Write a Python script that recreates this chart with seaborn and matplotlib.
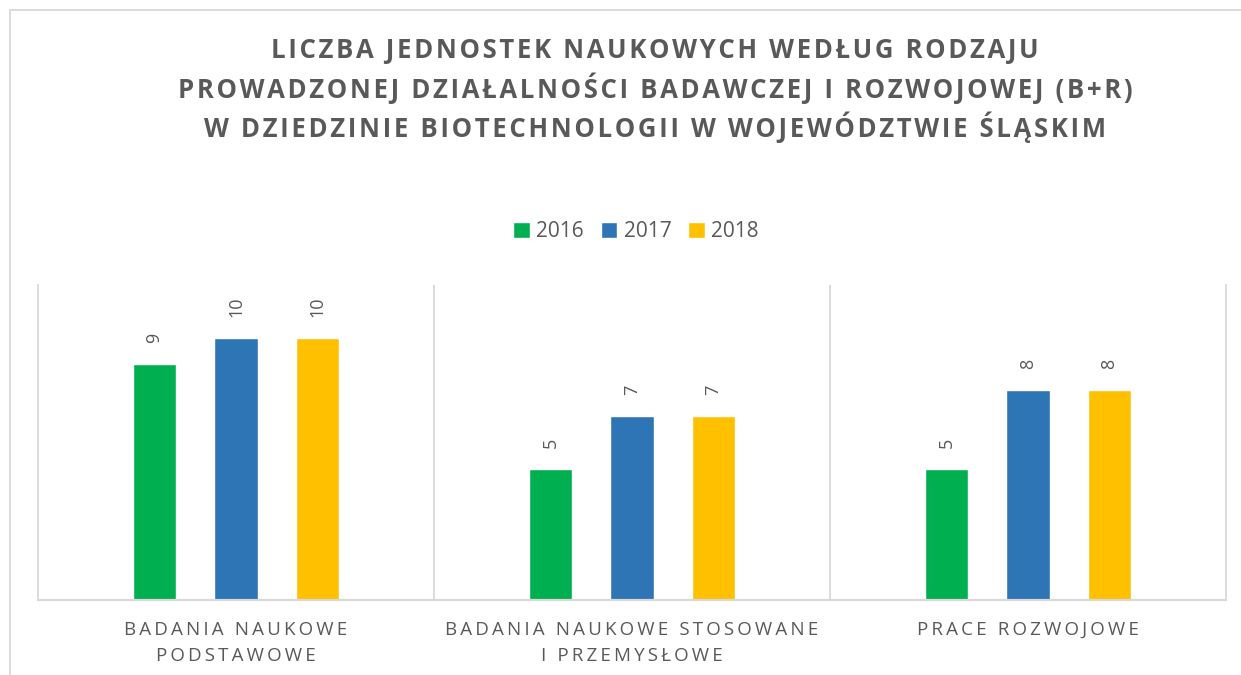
import matplotlib
matplotlib.use("Agg")
import matplotlib.pyplot as plt
from matplotlib.lines import Line2D
import seaborn as sns
import pandas as pd

categories = ["BADANIA NAUKOWE\nPODSTAWOWE",
              "BADANIA NAUKOWE STOSOWANE\nI PRZEMYSŁOWE",
              "PRACE ROZWOJOWE"]
years = ["2016", "2017", "2018"]
values_2016 = [9, 5, 5]
values_2017 = [10, 7, 8]
values_2018 = [10, 7, 8]
colors = ["#00B050", "#2E75B6", "#FFC000"]

title = ("LICZBA JEDNOSTEK NAUKOWYCH WEDŁUG RODZAJU\n"
         "PROWADZONEJ DZIAŁALNOŚCI BADAWCZEJ I ROZWOJOWEJ (B+R)\n"
         "W DZIEDZINIE BIOTECHNOLOGII W WOJEWÓDZTWIE ŚLĄSKIM")

TXT = "#595959"
GRID = "#D9D9D9"


def spaced(s, sep="\u200a"):
    # poor man's letter spacing
    lines = []
    for line in s.split("\n"):
        lines.append(sep.join(line))
    return "\n".join(lines)


rows = []
for y, vals in zip(years, [values_2016, values_2017, values_2018]):
    for c, v in zip(categories, vals):
        rows.append({"cat": c, "year": y, "value": v})
df = pd.DataFrame(rows)

sns.set_style("white")
plt.rcParams["font.family"] = ["Open Sans", "DejaVu Sans"]

fig = plt.figure(figsize=(12.41, 6.75), dpi=100)
ax = fig.add_axes([38 / 1241, 1 - 600 / 675, (1226 - 38) / 1241, 315 / 675])

sns.barplot(data=df, x="cat", y="value", hue="year", palette=colors,
            width=0.618, gap=0.47, ax=ax, saturation=1, legend=True)

for cont in ax.containers:
    ax.bar_label(cont, rotation=90, padding=15, color=TXT, fontsize=13)

ax.set_ylim(0, 12)
ax.set_xlim(-0.5, 2.5)
ax.set_yticks([])
ax.set_xlabel("")
ax.set_ylabel("")
ax.set_xticks(range(len(categories)))
ax.set_xticklabels([spaced(c, "\u2009") for c in categories], color=TXT,
                   fontsize=13.5, linespacing=1.6)
ax.tick_params(axis="x", length=0, pad=15)
for x in [0.5, 1.5]:
    ax.axvline(x, color=GRID, lw=1.3)
for side in ["left", "right", "bottom"]:
    ax.spines[side].set_color(GRID)
    ax.spines[side].set_linewidth(1.3)
ax.spines["bottom"].set_linewidth(1.6)
ax.spines["top"].set_visible(False)

handles, labels = ax.get_legend_handles_labels()
ax.legend(handles, labels, loc="center", bbox_to_anchor=(636 / 1241, 1 - 232 / 675),
          bbox_transform=fig.transFigure, ncol=3, frameon=False, fontsize=15,
          handlelength=0.8, handleheight=0.8, handletextpad=0.3,
          columnspacing=0.8, labelcolor=TXT)

fig.text(655 / 1241, 1 - 90 / 675, spaced(title, "\u200a"), ha="center", va="center",
         fontsize=18.5, fontweight="bold", color=TXT, linespacing=1.33)

# outer chart-area frame
fig.add_artist(Line2D([10 / 1241, 1.0], [1 - 10 / 675] * 2,
                      transform=fig.transFigure, color=GRID, lw=1.3))
fig.add_artist(Line2D([10 / 1241] * 2, [0.0, 1 - 10 / 675],
                      transform=fig.transFigure, color=GRID, lw=1.3))

fig.savefig("out.png", dpi=100, facecolor="white")
